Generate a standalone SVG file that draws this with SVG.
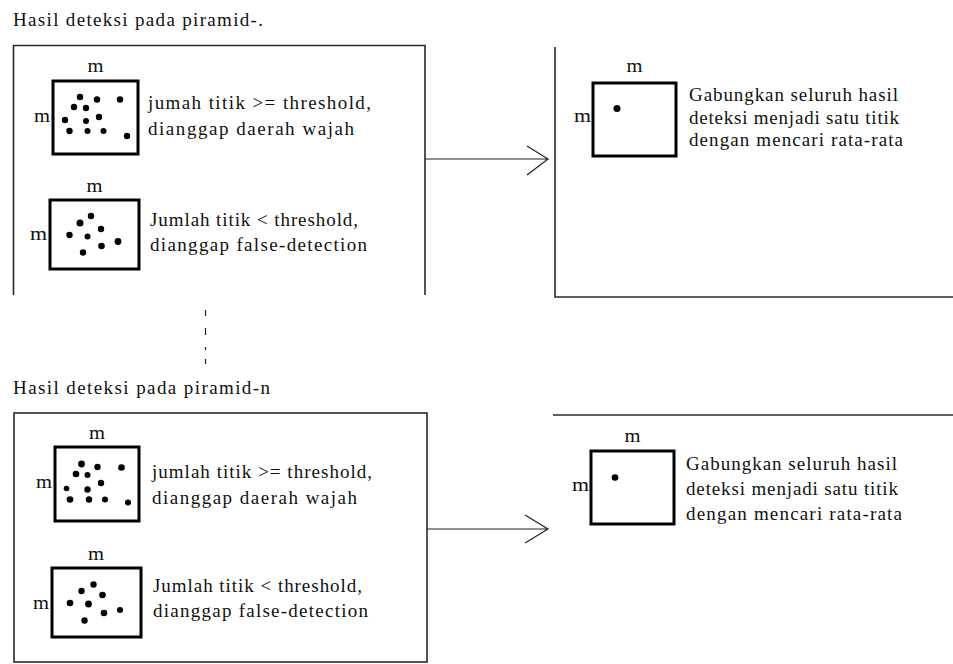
<svg xmlns="http://www.w3.org/2000/svg" width="953" height="664" viewBox="0 0 953 664">
<style>
text{font-family:"Liberation Serif","Times New Roman",serif;font-size:19px;fill:#111}
.m{text-anchor:middle}
.ml{text-anchor:end}
.outer{fill:none;stroke:#2a2a2a;stroke-width:1.6}
.inner{fill:none;stroke:#000;stroke-width:3}
.dot{fill:#000}
.conn{fill:none;stroke:#222;stroke-width:1.2}
</style>
<rect width="953" height="664" fill="#fff"/>

<g id="title-1"><text x="13" y="26" textLength="250" lengthAdjust="spacing">Hasil deteksi pada piramid-.</text></g>

<g id="frame-top-left">
<path class="outer" d="M13.5,295 V45.5 H425 V295"/>
</g>

<g id="node-top-face">
<rect class="inner" x="53" y="81" width="85" height="73"/>
<text class="m" x="95.5" y="72" textLength="16" lengthAdjust="spacingAndGlyphs">m</text>
<text class="ml" x="50" y="122" textLength="16" lengthAdjust="spacingAndGlyphs">m</text>
<g class="dot">
<circle cx="80" cy="97" r="3.2"/><circle cx="97" cy="99.5" r="3.2"/><circle cx="120" cy="99.5" r="3.2"/>
<circle cx="74" cy="107" r="3.2"/><circle cx="86" cy="108" r="3.2"/><circle cx="99" cy="117" r="3.2"/>
<circle cx="65" cy="120" r="3.2"/><circle cx="86" cy="121" r="3"/><circle cx="69.5" cy="131" r="3.2"/>
<circle cx="87.5" cy="131" r="3"/><circle cx="103.5" cy="131" r="3"/><circle cx="127" cy="136" r="3.2"/>
</g>
<text x="148" y="109" textLength="223" lengthAdjust="spacing">jumah titik &gt;= threshold,</text>
<text x="148" y="135" textLength="206" lengthAdjust="spacing">dianggap daerah wajah</text>
</g>

<g id="node-top-false">
<rect class="inner" x="50" y="200" width="89" height="69"/>
<text class="m" x="94.5" y="192" textLength="16" lengthAdjust="spacingAndGlyphs">m</text>
<text class="ml" x="47" y="240" textLength="17" lengthAdjust="spacingAndGlyphs">m</text>
<g class="dot">
<circle cx="91" cy="216" r="3.2"/><circle cx="80" cy="223" r="3.5"/><circle cx="101" cy="229" r="3.2"/>
<circle cx="69.5" cy="235" r="3.2"/><circle cx="87.5" cy="236.5" r="3"/><circle cx="118" cy="241.5" r="3.4"/>
<circle cx="101.5" cy="246" r="3.3"/><circle cx="83" cy="252.5" r="3.2"/>
</g>
<text x="150" y="226" textLength="208" lengthAdjust="spacing">Jumlah titik &lt; threshold,</text>
<text x="150" y="251" textLength="217" lengthAdjust="spacing">dianggap false-detection</text>
</g>

<g id="frame-top-right">
<path class="outer" d="M555,47 V297 H953"/>
</g>

<g id="node-top-result">
<rect class="inner" x="593" y="83" width="83" height="73"/>
<text class="m" x="634.5" y="72" textLength="16" lengthAdjust="spacingAndGlyphs">m</text>
<text class="ml" x="591" y="122" textLength="17" lengthAdjust="spacingAndGlyphs">m</text>
<circle class="dot" cx="617" cy="108.5" r="3.5"/>
<text x="689" y="101" textLength="209" lengthAdjust="spacing">Gabungkan seluruh hasil</text>
<text x="689" y="123.5" textLength="210" lengthAdjust="spacing">deteksi menjadi satu titik</text>
<text x="689" y="146" textLength="214" lengthAdjust="spacing">dengan mencari rata-rata</text>
</g>

<g id="title-2"><text x="13" y="394" textLength="257" lengthAdjust="spacing">Hasil deteksi pada piramid-n</text></g>

<g id="frame-bottom-left">
<rect class="outer" x="14" y="413" width="413" height="249"/>
</g>

<g id="node-bottom-face">
<rect class="inner" x="55" y="447" width="84" height="74"/>
<text class="m" x="97" y="439" textLength="16" lengthAdjust="spacingAndGlyphs">m</text>
<text class="ml" x="52" y="488" textLength="16" lengthAdjust="spacingAndGlyphs">m</text>
<g class="dot">
<circle cx="81.5" cy="464" r="3.4"/><circle cx="97.5" cy="467" r="3.2"/><circle cx="121.5" cy="467.5" r="3.3"/>
<circle cx="76" cy="474" r="3.3"/><circle cx="87.5" cy="475" r="3"/><circle cx="101" cy="483" r="3.2"/>
<circle cx="66.5" cy="488.5" r="2.8"/><circle cx="87.5" cy="489.5" r="3.2"/><circle cx="70" cy="499.5" r="3.3"/>
<circle cx="89" cy="499.5" r="3.2"/><circle cx="105" cy="499.5" r="3"/><circle cx="128" cy="502.5" r="3"/>
</g>
<text x="152" y="478" textLength="220" lengthAdjust="spacing">jumlah titik &gt;= threshold,</text>
<text x="152" y="504" textLength="205" lengthAdjust="spacing">dianggap daerah wajah</text>
</g>

<g id="node-bottom-false">
<rect class="inner" x="52" y="568" width="89" height="69"/>
<text class="m" x="96" y="560" textLength="16" lengthAdjust="spacingAndGlyphs">m</text>
<text class="ml" x="49" y="609" textLength="16" lengthAdjust="spacingAndGlyphs">m</text>
<g class="dot">
<circle cx="93.5" cy="584.5" r="3.2"/><circle cx="81.5" cy="591" r="3.2"/><circle cx="102.5" cy="595" r="3.3"/>
<circle cx="70" cy="603" r="3.3"/><circle cx="88.5" cy="604" r="3.4"/><circle cx="120" cy="610" r="3"/>
<circle cx="104" cy="613" r="3.3"/><circle cx="84.5" cy="620.5" r="3.2"/>
</g>
<text x="153" y="592" textLength="209" lengthAdjust="spacing">Jumlah titik &lt; threshold,</text>
<text x="153" y="617" textLength="215" lengthAdjust="spacing">dianggap false-detection</text>
</g>

<g id="frame-bottom-right">
<path class="outer" d="M553,415 H953"/>
</g>

<g id="node-bottom-result">
<rect class="inner" x="591" y="451" width="83" height="73"/>
<text class="m" x="632.5" y="442" textLength="16" lengthAdjust="spacingAndGlyphs">m</text>
<text class="ml" x="589" y="491" textLength="17" lengthAdjust="spacingAndGlyphs">m</text>
<circle class="dot" cx="615" cy="477.5" r="3.3"/>
<text x="686" y="470" textLength="211" lengthAdjust="spacing">Gabungkan seluruh hasil</text>
<text x="686" y="495" textLength="212" lengthAdjust="spacing">deteksi menjadi satu titik</text>
<text x="686" y="520" textLength="216" lengthAdjust="spacing">dengan mencari rata-rata</text>
</g>

<g id="connectors">
<path class="conn" d="M425,159 H548 M527,146 L548,159 L527,175"/>
<path class="conn" d="M427,529 H548 M525,515 L548,529 L525,543"/>
<path class="conn" stroke-width="1.6" d="M205.5,310 V316 M205.5,328 V335 M205.5,347 V350 M205.5,359 V364"/>
</g>
</svg>
